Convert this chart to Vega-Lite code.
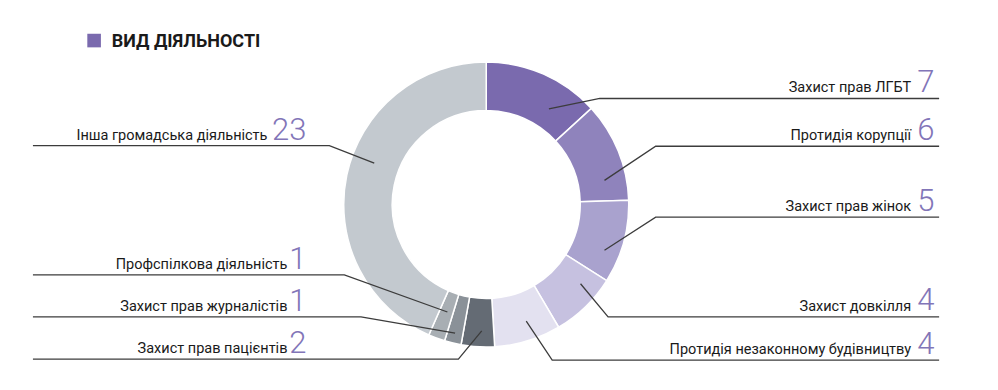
{
  "$schema": "https://vega.github.io/schema/vega-lite/v6.json",
  "width": 998,
  "height": 390,
  "padding": 0,
  "autosize": "none",
  "background": "white",
  "config": {"view": {"stroke": null}},
  "datasets": {
    "items": [
      {"name": "Захист прав ЛГБТ", "value": 7, "idx": 1, "side": "right", "ly": 101},
      {"name": "Протидія корупції", "value": 6, "idx": 2, "side": "right", "ly": 150},
      {"name": "Захист прав жінок", "value": 5, "idx": 3, "side": "right", "ly": 222.7},
      {"name": "Захист довкілля", "value": 4, "idx": 4, "side": "right", "ly": 325},
      {"name": "Протидія незаконному будівництву", "value": 4, "idx": 5, "side": "right", "ly": 369.3},
      {"name": "Захист прав пацієнтів", "value": 2, "idx": 6, "side": "left", "ly": 368.3},
      {"name": "Захист прав журналістів", "value": 1, "idx": 7, "side": "left", "ly": 325},
      {"name": "Профспілкова діяльність", "value": 1, "idx": 8, "side": "left", "ly": 282},
      {"name": "Інша громадська діяльність", "value": 23, "idx": 9, "side": "left", "ly": 149.3}
    ],
    "leaders": [
      {"name": "Захист прав ЛГБТ", "ord": 1, "x": 941, "y": 101},
      {"name": "Захист прав ЛГБТ", "ord": 2, "x": 601, "y": 101},
      {"name": "Захист прав ЛГБТ", "ord": 3, "x": 550, "y": 111.7},
      {"name": "Протидія корупції", "ord": 1, "x": 941, "y": 150},
      {"name": "Протидія корупції", "ord": 2, "x": 657, "y": 150},
      {"name": "Протидія корупції", "ord": 3, "x": 605.7, "y": 185},
      {"name": "Захист прав жінок", "ord": 1, "x": 941, "y": 222.7},
      {"name": "Захист прав жінок", "ord": 2, "x": 657, "y": 222.7},
      {"name": "Захист прав жінок", "ord": 3, "x": 605.7, "y": 256.7},
      {"name": "Захист довкілля", "ord": 1, "x": 941, "y": 325},
      {"name": "Захист довкілля", "ord": 2, "x": 609.3, "y": 325},
      {"name": "Захист довкілля", "ord": 3, "x": 581.7, "y": 291},
      {"name": "Протидія незаконному будівництву", "ord": 1, "x": 941, "y": 369.3},
      {"name": "Протидія незаконному будівництву", "ord": 2, "x": 553.3, "y": 369.3},
      {"name": "Протидія незаконному будівництву", "ord": 3, "x": 527.3, "y": 329.3},
      {"name": "Захист прав пацієнтів", "ord": 1, "x": 33, "y": 368.3},
      {"name": "Захист прав пацієнтів", "ord": 2, "x": 459.3, "y": 368.3},
      {"name": "Захист прав пацієнтів", "ord": 3, "x": 482.7, "y": 339.3},
      {"name": "Захист прав журналістів", "ord": 1, "x": 33, "y": 325},
      {"name": "Захист прав журналістів", "ord": 2, "x": 361.7, "y": 325},
      {"name": "Захист прав журналістів", "ord": 3, "x": 456, "y": 341.7},
      {"name": "Профспілкова діяльність", "ord": 1, "x": 33, "y": 282},
      {"name": "Профспілкова діяльність", "ord": 2, "x": 345, "y": 282},
      {"name": "Профспілкова діяльність", "ord": 3, "x": 448.3, "y": 320},
      {"name": "Інша громадська діяльність", "ord": 1, "x": 33, "y": 149.3},
      {"name": "Інша громадська діяльність", "ord": 2, "x": 330, "y": 149.3},
      {"name": "Інша громадська діяльність", "ord": 3, "x": 375, "y": 167.3}
    ]
  },
  "resolve": {"scale": {"x": "shared", "y": "shared"}},
  "layer": [
    {
      "data": {"name": "items"},
      "mark": {"type": "arc", "innerRadius": 94, "outerRadius": 142.5, "stroke": "white", "strokeWidth": 1.5},
      "encoding": {
        "theta": {"field": "value", "type": "quantitative", "stack": true},
        "order": {"field": "idx", "type": "quantitative"},
        "color": {
          "field": "name",
          "type": "nominal",
          "legend": null,
          "scale": {
            "domain": ["Захист прав ЛГБТ", "Протидія корупції", "Захист прав жінок", "Захист довкілля", "Протидія незаконному будівництву", "Захист прав пацієнтів", "Захист прав журналістів", "Профспілкова діяльність", "Інша громадська діяльність"],
            "range": ["#7a6aae", "#8f83bc", "#a9a2ce", "#c6c1e0", "#e3e1f0", "#646b74", "#8a9198", "#a8aeb3", "#c3c9cf"]
          }
        },
        "x": {"datum": 487.2, "type": "quantitative", "scale": {"domain": [0, 998]}, "axis": null},
        "y": {"datum": 209.8, "type": "quantitative", "scale": {"domain": [0, 390], "reverse": true}, "axis": null}
      }
    },
    {
      "data": {"name": "leaders"},
      "mark": {"type": "line", "color": "#3c3c3c", "strokeWidth": 1.3},
      "encoding": {
        "x": {"field": "x", "type": "quantitative", "scale": {"domain": [0, 998]}, "axis": null},
        "y": {"field": "y", "type": "quantitative", "scale": {"domain": [0, 390], "reverse": true}, "axis": null},
        "detail": {"field": "name"},
        "order": {"field": "ord", "type": "quantitative"}
      }
    },
    {
      "data": {"name": "items"},
      "transform": [{"filter": "datum.side == 'right'"}],
      "mark": {"type": "text", "align": "right", "baseline": "alphabetic", "dy": -6, "fontSize": 14.5, "font": "Roboto", "color": "#1a1a1a"},
      "encoding": {
        "x": {"datum": 913, "type": "quantitative"},
        "y": {"field": "ly", "type": "quantitative"},
        "text": {"field": "name"}
      }
    },
    {
      "data": {"name": "items"},
      "transform": [{"filter": "datum.side == 'right'"}],
      "mark": {"type": "text", "align": "left", "baseline": "alphabetic", "dy": -6.5, "fontSize": 31, "fontWeight": 300, "font": "Roboto", "color": "#8275b8"},
      "encoding": {
        "x": {"datum": 919, "type": "quantitative"},
        "y": {"field": "ly", "type": "quantitative"},
        "text": {"field": "value"}
      }
    },
    {
      "data": {"name": "items"},
      "transform": [
        {"filter": "datum.side == 'left'"},
        {"calculate": "288 - 20 * (length(toString(datum.value)) - 1)", "as": "lx"}
      ],
      "mark": {"type": "text", "align": "right", "baseline": "alphabetic", "dy": -6, "fontSize": 14.5, "font": "Roboto", "color": "#1a1a1a"},
      "encoding": {
        "x": {"field": "lx", "type": "quantitative"},
        "y": {"field": "ly", "type": "quantitative"},
        "text": {"field": "name"}
      }
    },
    {
      "data": {"name": "items"},
      "transform": [{"filter": "datum.side == 'left'"}],
      "mark": {"type": "text", "align": "right", "baseline": "alphabetic", "dy": -6, "fontSize": 31, "fontWeight": 300, "font": "Roboto", "color": "#8275b8"},
      "encoding": {
        "x": {"datum": 307, "type": "quantitative"},
        "y": {"field": "ly", "type": "quantitative"},
        "text": {"field": "value"}
      }
    },
    {
      "data": {"values": [{}]},
      "mark": {"type": "point", "shape": "square", "filled": true, "size": 185, "color": "#7a6aae", "opacity": 1},
      "encoding": {
        "x": {"datum": 94.3},
        "y": {"datum": 41.6}
      }
    },
    {
      "data": {"values": [{}]},
      "mark": {"type": "text", "text": "ВИД ДІЯЛЬНОСТІ", "align": "left", "baseline": "alphabetic", "fontSize": 18, "fontWeight": "bold", "font": "Roboto", "color": "#1a1a1a"},
      "encoding": {
        "x": {"datum": 112},
        "y": {"datum": 48.5}
      }
    }
  ]
}
